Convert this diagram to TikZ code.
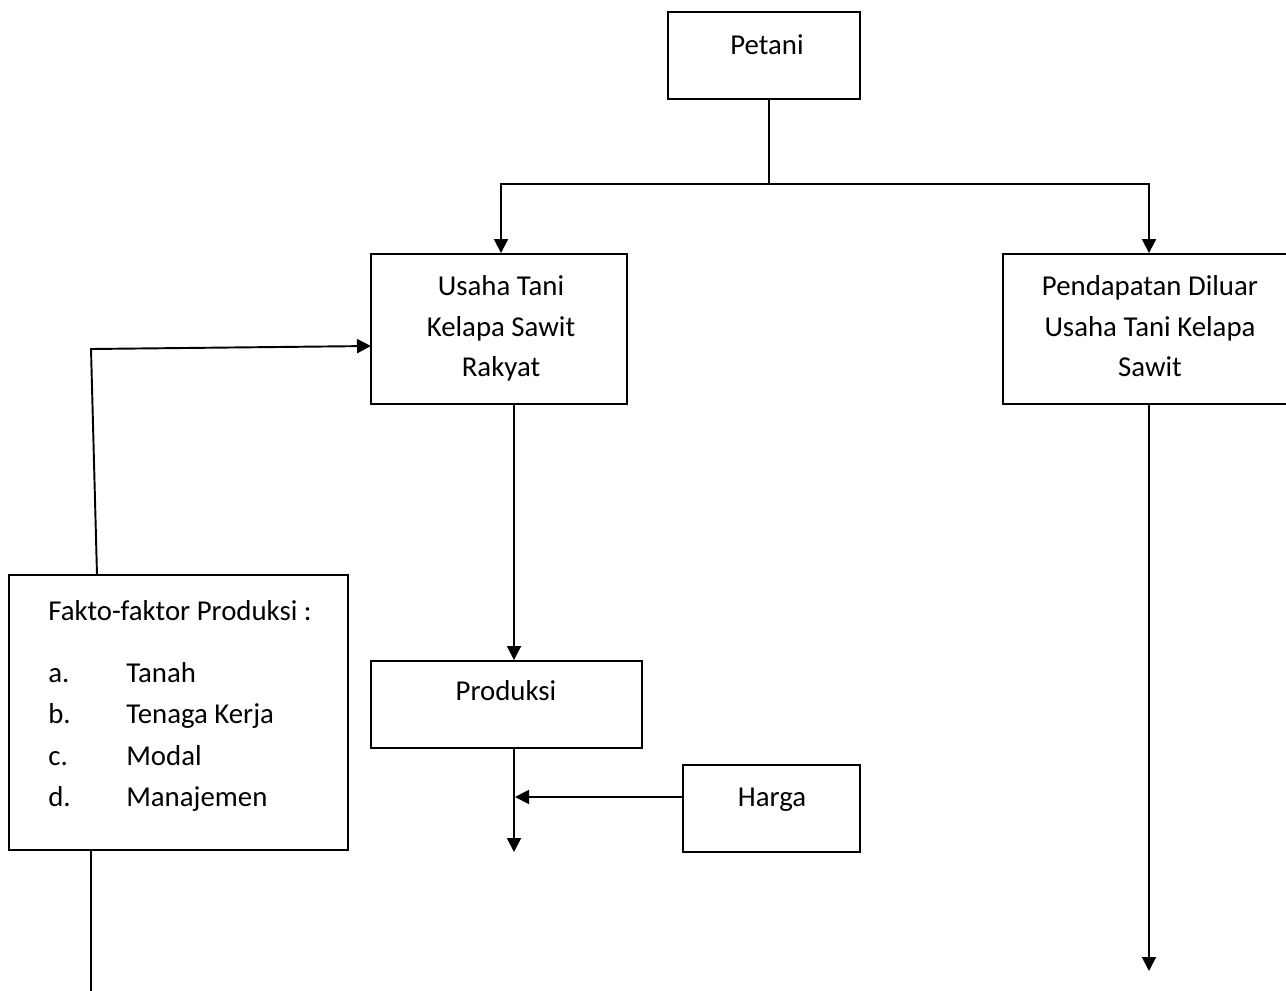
\documentclass[tikz,border=0pt]{standalone}
\usepackage{fontspec}
\setmainfont{Carlito}
\usetikzlibrary{fit,arrows.meta}
\begin{document}
\begin{tikzpicture}[x=0.02cm,y=-0.02cm,
  box/.style={draw,line width=1.1pt,inner sep=0pt},
  txt/.style={inner sep=0pt,align=center,font=\fontsize{16.4pt}{23.2pt}\selectfont},
  ln/.style={line width=1.1pt},
  arr/.style={line width=1.1pt,-{Triangle[length=0.28cm,width=0.28cm]}}]
\useasboundingbox (0,0) rectangle (1286,991);
% corner coordinates
\coordinate (p1) at (668,12);   \coordinate (p2) at (860,99);
\coordinate (u1) at (371,254);  \coordinate (u2) at (627,404);
\coordinate (d1) at (1003,254); \coordinate (d2) at (1292,404);
\coordinate (f1) at (9,575);    \coordinate (f2) at (348,850);
\coordinate (r1) at (371,661);  \coordinate (r2) at (642,748);
\coordinate (h1) at (683,765);  \coordinate (h2) at (860,852);
% boxes
\node[box,fit=(p1)(p2)] (petani) {};
\node[box,fit=(u1)(u2)] (usaha) {};
\node[box,fit=(d1)(d2)] (pend) {};
\node[box,fit=(f1)(f2)] (fakto) {};
\node[box,fit=(r1)(r2)] (prod) {};
\node[box,fit=(h1)(h2)] (harga) {};
% texts
\node[txt,anchor=base] (tpetani) at (767,54) {Petani};
\node[txt,anchor=north] (tusaha) at (501,275) {Usaha Tani\\Kelapa Sawit\\Rakyat};
\node[txt,anchor=north] (tpend) at (1150,275) {Pendapatan Diluar\\Usaha Tani Kelapa\\Sawit};
\node[txt,anchor=base] (tfakto) at (180,620) {Fakto-faktor Produksi :};
\node[txt,align=left,anchor=north west,font=\fontsize{16.4pt}{23.6pt}\selectfont] (tlist) at (48,662) {\makebox[1.56cm][l]{a.}Tanah\\ \makebox[1.56cm][l]{b.}Tenaga Kerja\\ \makebox[1.56cm][l]{c.}Modal\\ \makebox[1.56cm][l]{d.}Manajemen};
\node[txt,anchor=base] (tprod) at (506,700) {Produksi};
\node[txt,anchor=base] (tharga) at (772,806) {Harga};
% helper coordinates
\coordinate (px) at (769,184);
\coordinate (ux) at (501,184);
\coordinate (dx) at (1149,184);
\coordinate (mx) at (514,0);
\coordinate (mend) at (514,852);
\coordinate (hend) at (515,797);
\coordinate (ftop) at (97,575);
\coordinate (fcorner) at (91,349);
\coordinate (uin) at (371,346);
\coordinate (fbot) at (91,991);
\coordinate (dend) at (1149,971);
% connectors
\draw[ln] (petani.south -| px) -- (px);
\draw[arr] (px) -- (ux) -- (usaha.north -| ux);
\draw[arr] (px) -- (dx) -- (pend.north -| dx);
\draw[arr] (usaha.south -| mx) -- (prod.north -| mx);
\draw[arr] (prod.south -| mx) -- (mend);
\draw[arr] (harga.west |- hend) -- (hend);
\draw[arr] (pend.south -| dx) -- (dend);
\draw[arr] (ftop) -- (fcorner) -- (uin);
\draw[ln] (fakto.south -| fbot) -- (fbot);
\end{tikzpicture}
\end{document}
